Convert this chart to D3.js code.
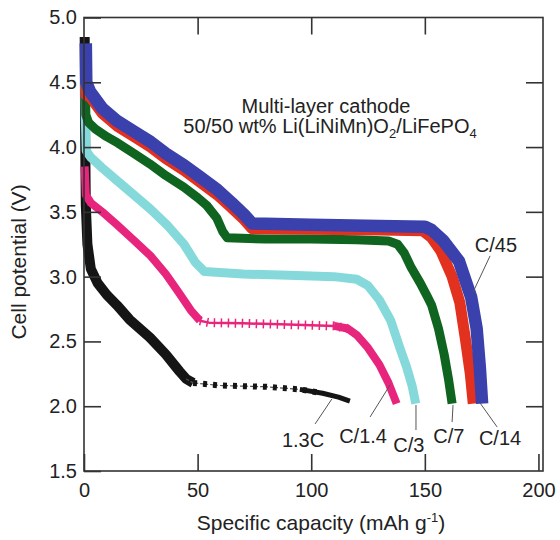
<!DOCTYPE html>
<html>
<head>
<meta charset="utf-8">
<script src="https://cdn.jsdelivr.net/npm/d3@7"></script>
<style>
  body { margin: 0; background: #fff; }
  text { font-family: "Liberation Sans", Arial, Helvetica, sans-serif; fill: #222; }
</style>
</head>
<body>
<script>
// discharge curves, [capacity mAh/g, potential V]
var c45 = [[0.8,4.8],[1,4.5],[2.6,4.43],[8,4.3],[14.7,4.2],[22,4.12],[29.3,4.04],[36,3.95],[44,3.86],
  [51,3.77],[58.7,3.67],[65,3.57],[70.4,3.48],[74,3.41],[100,3.40],[130,3.39],[150,3.385],[153,3.36],
  [158,3.28],[165,3.12],[170.4,2.84],[172.8,2.6],[174.2,2.3],[175.2,2.02]];
var c14 = [[0.8,4.6],[1,4.4],[2.6,4.39],[8,4.26],[14.7,4.16],[22,4.08],[29.3,4.0],[36,3.91],[44,3.82],
  [51,3.73],[58.7,3.63],[65,3.53],[70.4,3.44],[74,3.37],[100,3.365],[130,3.36],[149,3.355],[153,3.3],
  [157,3.2],[162,3.0],[165.4,2.8],[168,2.5],[170,2.25],[171.3,2.02]];
var c7 = [[0.5,4.7],[0.8,4.25],[2,4.19],[5,4.14],[10,4.08],[15,4.03],[22,3.95],[29,3.87],[36,3.78],
  [44,3.69],[50,3.61],[54,3.55],[58.5,3.45],[61,3.35],[63,3.30],[80,3.29],[100,3.29],[120,3.285],
  [134,3.275],[138,3.25],[141,3.18],[144,3.07],[148,2.95],[151,2.85],[153,2.78],[156,2.6],
  [158.5,2.4],[160.5,2.2],[162,2.02]];
var c3 = [[0.3,4.65],[0.6,4.2],[1,3.97],[3,3.92],[8,3.84],[14.6,3.74],[22,3.63],[29.3,3.52],[37,3.39],
  [44,3.25],[49,3.11],[53,3.04],[70,3.02],[90,3.01],[110,3.0],[120,2.98],[125,2.93],[130,2.82],
  [135,2.66],[139,2.45],[142,2.3],[144.5,2.15],[146,2.02]];
var c14r = [[0.3,3.85],[0.8,3.63],[3,3.57],[8,3.5],[14.5,3.4],[22,3.28],[29.3,3.16],[36,3.02],[42,2.87],
  [47,2.74],[51,2.66],[55,2.645],[70,2.64],[90,2.63],[110,2.62],[116,2.6],[120,2.55],[125,2.45],
  [130,2.32],[134,2.18],[137.6,2.02]];
var c13 = [[0.3,4.85],[0.5,4.1],[0.8,3.55],[1.5,3.25],[3,3.06],[6,2.95],[10,2.86],[14.5,2.78],[20,2.67],
  [29,2.53],[36,2.4],[42,2.27],[45,2.21],[48,2.18],[60,2.16],[80,2.15],[95,2.13],[105,2.1],
  [112,2.07],[117,2.04]];

var xTicks = [0, 50, 100, 150, 200];
var yTicks = [1.5, 2.0, 2.5, 3.0, 3.5, 4.0, 4.5, 5.0];

var rateLabels = ["C/45", "C/14", "C/7", "C/3", "C/1.4", "1.3C"];
// label anchor (data units) and leader line ends
var labelPos = [[181.3,3.19], [183.1,1.70], [160.6,1.716], [143.0,1.647], [122.8,1.716], [96.4,1.685]];
var leaders = [[[178.7,3.16],[171.2,2.88]], [[174.3,2.025],[181.8,1.84]], [[162.4,2.009],[162.0,1.878]],
  [[146.1,2.009],[146.1,1.816]], [[134.7,2.164],[125.9,1.917]], [[109.1,2.056],[101.7,1.863]]];

var width = 560, height = 540;
var margin = {top: 17.5, right: 17, bottom: 69, left: 84};

var x = d3.scaleLinear().domain([0, 202]).range([margin.left, width - margin.right]);
var y = d3.scaleLinear().domain([1.5, 5.0]).range([height - margin.bottom, margin.top]);

var svg = d3.select("body").append("svg")
  .attr("width", width)
  .attr("height", height);

var line = d3.line()
  .x(function(d) { return x(d[0]); })
  .y(function(d) { return y(d[1]); });

var plot = svg.append("g");

function curve(data, color, w) {
  return plot.append("path")
    .attr("d", line(data))
    .attr("fill", "none")
    .attr("stroke", color)
    .attr("stroke-width", w)
    .attr("stroke-linejoin", "round")
    .attr("stroke-linecap", "butt");
}

// 1.3C : dense marks on the slope, x marks along the flat part
var black = "#151515";
curve(c13.filter(d => d[0] <= 48), black, 10);
curve(c13.filter(d => d[0] >= 45), "#555", 1.2).attr("stroke-dasharray", "3 2");
curve(c13.filter(d => d[0] >= 48 && d[0] <= 105), black, 6).attr("stroke-dasharray", "4 6");
curve(c13.filter(d => d[0] >= 95), black, 5);

// C/1.4 : + marks on the flat part
var pink = "#e8257d";
curve(c14r.filter(d => d[0] <= 51), pink, 8);
curve(c14r.filter(d => d[0] >= 47 && d[0] <= 120), pink, 2.5);
curve(c14r.filter(d => d[0] >= 51 && d[0] <= 116), pink, 9).attr("stroke-dasharray", "1.5 5.5");
curve(c14r.filter(d => d[0] >= 110), pink, 8);

curve(c3, "#86d9da", 9);
curve(c7, "#0f6420", 9);
curve(c14, "#e2321f", 11);
curve(c45, "#3a40ac", 12.5);

// frame and ticks
var frame = "#333";
svg.append("rect")
  .attr("x", x(0)).attr("y", y(5.0))
  .attr("width", x(202) - x(0)).attr("height", y(1.5) - y(5.0))
  .attr("fill", "none").attr("stroke", frame).attr("stroke-width", 1.6);

var xAxis = d3.axisBottom(x).tickValues(xTicks).tickSize(-17).tickPadding(12);
svg.append("g")
  .attr("transform", "translate(0," + y(1.5) + ")")
  .call(xAxis)
  .call(g => g.select(".domain").remove());

svg.append("g")
  .attr("transform", "translate(0," + y(5.0) + ")")
  .call(d3.axisTop(x).tickValues([50, 100, 150]).tickSize(-17).tickFormat(""))
  .call(g => g.select(".domain").remove());

var yAxis = d3.axisLeft(y).tickValues(yTicks).tickSize(-17).tickPadding(7).tickFormat(d3.format(".1f"));
svg.append("g")
  .attr("transform", "translate(" + x(0) + ",0)")
  .call(yAxis)
  .call(g => g.select(".domain").remove());

svg.append("g")
  .attr("transform", "translate(" + x(202) + ",0)")
  .call(d3.axisRight(y).tickValues([2.0, 2.5, 3.0, 3.5, 4.0, 4.5]).tickSize(-17).tickFormat(""))
  .call(g => g.select(".domain").remove());

svg.selectAll(".tick line").attr("stroke", frame).attr("stroke-width", 1.6);
svg.selectAll(".tick text")
  .attr("font-size", 20)
  .attr("font-family", "Liberation Sans, Arial, sans-serif")
  .attr("fill", "#222");

// axis titles
var xt = svg.append("text")
  .attr("x", 321).attr("y", 530)
  .attr("text-anchor", "middle")
  .attr("font-size", 21);
xt.append("tspan").text("Specific capacity (mAh g");
xt.append("tspan").attr("dy", -8).attr("font-size", 13).text("-1");
xt.append("tspan").attr("dy", 8).text(")");

svg.append("text")
  .attr("transform", "translate(26,262) rotate(-90)")
  .attr("text-anchor", "middle")
  .attr("font-size", 21)
  .text("Cell potential (V)");

// inset note
svg.append("text")
  .attr("x", 326).attr("y", 112.5)
  .attr("text-anchor", "middle")
  .attr("font-size", 20)
  .text("Multi-layer cathode");

var note = svg.append("text")
  .attr("x", 330).attr("y", 132.5)
  .attr("text-anchor", "middle")
  .attr("font-size", 20);
note.append("tspan").text("50/50 wt% Li(LiNiMn)O");
note.append("tspan").attr("dy", 5).attr("font-size", 13).text("2");
note.append("tspan").attr("dy", -5).text("/LiFePO");
note.append("tspan").attr("dy", 5).attr("font-size", 13).text("4");

// rate labels with leader lines
svg.selectAll(".leader")
  .data(leaders)
  .enter().append("line")
  .attr("class", "leader")
  .attr("x1", d => x(d[0][0])).attr("y1", d => y(d[0][1]))
  .attr("x2", d => x(d[1][0])).attr("y2", d => y(d[1][1]))
  .attr("stroke", "#555").attr("stroke-width", 1);

svg.selectAll(".rate")
  .data(rateLabels)
  .enter().append("text")
  .attr("class", "rate")
  .attr("x", (d, i) => x(labelPos[i][0]))
  .attr("y", (d, i) => y(labelPos[i][1]))
  .attr("text-anchor", "middle")
  .attr("font-size", 20)
  .text(d => d);
</script>
</body>
</html>
